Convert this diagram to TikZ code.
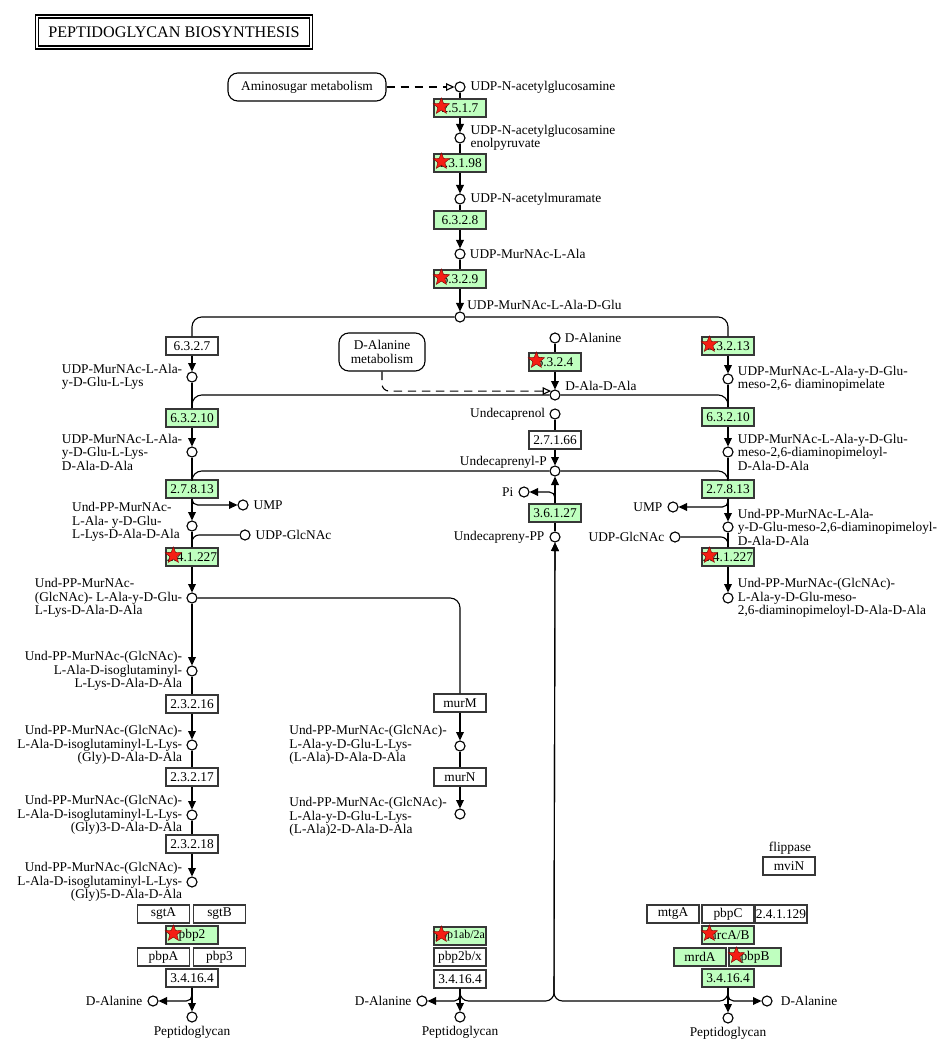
\documentclass[tikz,border=0pt]{standalone}
\usepackage{fontspec}
\setmainfont{Liberation Serif}
\usetikzlibrary{positioning,arrows.meta,shapes.geometric,backgrounds,calc}
\definecolor{enz}{RGB}{191,255,191}
\definecolor{frame}{RGB}{55,55,55}
\definecolor{hit}{RGB}{245,30,20}

\begin{document}
\begin{tikzpicture}[x=0.025cm, y=-0.025cm,
  cpd/.style={circle, draw, fill=white, line width=0.8pt, inner sep=0pt, minimum size=0.25cm},
  ez/.style={draw=frame, line width=0.9pt, fill=white, minimum width=1.3cm,
             minimum height=0.45cm, inner sep=0pt, font=\fontsize{9.5}{9.6}\selectfont},
  ezg/.style={ez, fill=enz},
  lbl/.style={inner sep=0pt, align=left, font=\fontsize{9.5}{9.6}\selectfont},
  lblr/.style={lbl, align=right},
  hitmark/.style={star, star points=5, star point ratio=2.3, fill=hit, draw=red!50!black,
                  line width=0.3pt, minimum size=0.43cm, inner sep=0pt},
  mapref/.style={draw, rounded corners=7pt, line width=0.8pt, align=center, inner sep=2pt,
                 font=\fontsize{9.5}{9.6}\selectfont},
  titlebox/.style={draw, double, double distance=0.8pt, line width=1.1pt, minimum width=6.85cm,
                   minimum height=0.78cm, font=\fontsize{11.5}{12}\selectfont},
  link/.style={line width=0.8pt},
  arr/.style={link, -{Triangle[length=6pt,width=5.5pt]}},
  dasharr/.style={link, dash pattern=on 6pt off 4pt, -{Triangle[open,length=6pt,width=5.5pt]}},
]
\useasboundingbox (0,0) rectangle (939,1050);
\fill[white] (0,0) rectangle (939,1050);

% Title
\node[titlebox] (title) at (174,32) {PEPTIDOGLYCAN BIOSYNTHESIS};

% Main column -- UDP-GlcNAc down to UDP-MurNAc-L-Ala-D-Glu
\node[mapref, minimum width=3.95cm, minimum height=0.7cm] (amino) at (307,87) {Aminosugar metabolism};
\node[cpd] (c1) at (460,87) {};
\node[ezg] (e2517) at (460,108) {2.5.1.7};
\node[cpd] (c2) at (460,138) {};
\node[ezg] (e13198) at (460,163) {1.3.1.98};
\node[cpd] (c3) at (460,199) {};
\node[ezg] (e6328) at (460,220) {6.3.2.8};
\node[cpd] (c4) at (460,254) {};
\node[ezg] (e6329) at (460,279) {6.3.2.9};
\node[cpd] (c5) at (460,317) {};

\node[lbl, right=0.12cm of c1] (t-c1) {UDP-N-acetylglucosamine};
\node[lbl, right=0.12cm of c2] (t-c2) {UDP-N-acetylglucosamine\\enolpyruvate};
\node[lbl, right=0.12cm of c3] (t-c3) {UDP-N-acetylmuramate};
\node[lbl, right=0.1cm of c4] (t-c4) {UDP-MurNAc-L-Ala};
\node[lbl, anchor=west] (t-c5) at (467,305) {UDP-MurNAc-L-Ala-D-Glu};

% Left column -- L-Lys branch
\node[ez] (e6327) at (192,346) {6.3.2.7};
\node[cpd] (cl1) at (192,377) {};
\node[ezg] (e63210l) at (192,418) {6.3.2.10};
\node[cpd] (cl2) at (192,452) {};
\node[ezg] (e2713l) at (192,489) {2.7.8.13};
\node[cpd] (cl3) at (192,526) {};
\node[ezg] (e24l) at (192,557) {2.4.1.227};
\node[cpd] (cl4) at (192,598) {};
\node[cpd] (cl5) at (192,671) {};
\node[ez] (e2316) at (192,704) {2.3.2.16};
\node[cpd] (cl6) at (192,745) {};
\node[ez] (e2317) at (192,777) {2.3.2.17};
\node[cpd] (cl7) at (192,815) {};
\node[ez] (e2318) at (192,844) {2.3.2.18};
\node[cpd] (cl8) at (192,882) {};
\node[ez] (sgtA) at (163.5,914) {sgtA};
\node[ez] (sgtB) at (219.5,914) {sgtB};
\node[ezg] (pbp2) at (192,935) {pbp2};
\node[ez] (pbpA) at (163.5,957) {pbpA};
\node[ez] (pbp3) at (219.5,957) {pbp3};
\node[ez] (e3416l) at (192,978) {3.4.16.4};
\node[cpd] (dalal) at (153,1001) {};
\node[cpd] (pgl) at (192,1017) {};
\node[cpd] (umpl) at (243,505) {};
\node[cpd] (glcl) at (245,535) {};

\node[lbl, left=0.1cm of cl1] (t-cl1) {UDP-MurNAc-L-Ala-\\y-D-Glu-L-Lys};
\node[lbl, left=0.1cm of cl2] (t-cl2) {UDP-MurNAc-L-Ala-\\y-D-Glu-L-Lys-\\D-Ala-D-Ala};
\node[lbl, anchor=east] (t-cl3) at (180,522) {Und-PP-MurNAc-\\L-Ala- y-D-Glu-\\L-Lys-D-Ala-D-Ala};
\node[lbl, left=0.1cm of cl4] (t-cl4) {Und-PP-MurNAc-\\(GlcNAc)- L-Ala-y-D-Glu-\\L-Lys-D-Ala-D-Ala};
\node[lblr, left=0.1cm of cl5] (t-cl5) {Und-PP-MurNAc-(GlcNAc)-\\L-Ala-D-isoglutaminyl-\\L-Lys-D-Ala-D-Ala};
\node[lblr, left=0.1cm of cl6] (t-cl6) {Und-PP-MurNAc-(GlcNAc)-\\L-Ala-D-isoglutaminyl-L-Lys-\\(Gly)-D-Ala-D-Ala};
\node[lblr, left=0.1cm of cl7] (t-cl7) {Und-PP-MurNAc-(GlcNAc)-\\L-Ala-D-isoglutaminyl-L-Lys-\\(Gly)3-D-Ala-D-Ala};
\node[lblr, left=0.1cm of cl8] (t-cl8) {Und-PP-MurNAc-(GlcNAc)-\\L-Ala-D-isoglutaminyl-L-Lys-\\(Gly)5-D-Ala-D-Ala};
\node[lbl, right=0.12cm of umpl] (t-umpl) {UMP};
\node[lbl, right=0.12cm of glcl] (t-glcl) {UDP-GlcNAc};
\node[lbl, left=0.12cm of dalal] (t-dalal) {D-Alanine};
\node[lbl, anchor=north] (t-pgl) at (192,1026) {Peptidoglycan};

% Middle column -- murM / murN
\node[ez] (murM) at (460,703) {murM};
\node[cpd] (cm1) at (460,746) {};
\node[ez] (murN) at (460,777) {murN};
\node[cpd] (cm2) at (460,814) {};
\node[ezg, font=\fontsize{8.5}{9}\selectfont] (pbp1) at (460,936) {pbp1ab/2a};
\node[ez] (pbp2bx) at (460,957) {pbp2b/x};
\node[ez] (e3416m) at (460,979) {3.4.16.4};
\node[cpd] (dalam) at (422,1001) {};
\node[cpd] (pgm) at (460,1017) {};
\coordinate (jm) at (554,1001);

\node[lbl, anchor=east] (t-cm1) at (447,745) {Und-PP-MurNAc-(GlcNAc)-\\L-Ala-y-D-Glu-L-Lys-\\(L-Ala)-D-Ala-D-Ala};
\node[lbl, anchor=east] (t-cm2) at (447,817) {Und-PP-MurNAc-(GlcNAc)-\\L-Ala-y-D-Glu-L-Lys-\\(L-Ala)2-D-Ala-D-Ala};
\node[lbl, left=0.12cm of dalam] (t-dalam) {D-Alanine};
\node[lbl, anchor=north] (t-pgm) at (460,1026) {Peptidoglycan};

% Centre column -- D-Ala-D-Ala and lipid carrier
\node[mapref, minimum width=2.15cm, minimum height=0.95cm] (dalameta) at (382,352) {D-Alanine\\metabolism};
\node[cpd] (dala) at (555,338) {};
\node[ezg] (e6324) at (555,362) {6.3.2.4};
\node[cpd] (ddala) at (555,395) {};
\node[cpd] (undol) at (555,414) {};
\node[ez] (e27166) at (555,440) {2.7.1.66};
\node[cpd] (undp) at (555,471) {};
\node[cpd] (pi) at (524,492) {};
\node[ezg] (e36127) at (555,513) {3.6.1.27};
\node[cpd] (upp) at (555,537) {};

\node[lbl, right=0.1cm of dala] (t-dala) {D-Alanine};
\node[lbl, anchor=west] (t-ddala) at (565,386) {D-Ala-D-Ala};
\node[lbl, left=0.1cm of undol] (t-undol) {Undecaprenol};
\node[lbl, anchor=east] (t-undp) at (547,462) {Undecaprenyl-P};
\node[lbl, left=0.12cm of pi] (t-pi) {Pi};
\node[lbl, left=0.12cm of upp] (t-upp) {Undecapreny-PP};

% Right column -- meso-DAP branch
\node[ezg] (e63213) at (728,346) {6.3.2.13};
\node[cpd] (cr1) at (728,379) {};
\node[ezg] (e63210r) at (728,417) {6.3.2.10};
\node[cpd] (cr2) at (728,452) {};
\node[ezg] (e2713r) at (728,489) {2.7.8.13};
\node[cpd] (cr3) at (728,527) {};
\node[ezg] (e24r) at (728,557) {2.4.1.227};
\node[cpd] (cr4) at (728,598) {};
\node[cpd] (umpr) at (673,507) {};
\node[cpd] (glcr) at (675,537) {};
\node[ez] (mtgA) at (673,914) {mtgA};
\node[ez] (pbpC) at (728,914) {pbpC};
\node[ez] (e24129) at (781,914) {2.4.1.129};
\node[ezg] (mrcAB) at (728,935) {mrcA/B};
\node[ezg] (mrdA) at (700,957) {mrdA};
\node[ezg] (pbpB) at (755,957) {pbpB};
\node[ezg] (e3416r) at (728,978) {3.4.16.4};
\node[cpd] (dalar) at (767,1001) {};
\node[cpd] (pgr) at (728,1018) {};
\node[ez] (mviN) at (789,866) {mviN};

\node[lbl, right=0.1cm of cr1] (t-cr1) {UDP-MurNAc-L-Ala-y-D-Glu-\\meso-2,6- diaminopimelate};
\node[lbl, right=0.1cm of cr2] (t-cr2) {UDP-MurNAc-L-Ala-y-D-Glu-\\meso-2,6-diaminopimeloyl-\\D-Ala-D-Ala};
\node[lbl, right=0.1cm of cr3] (t-cr3) {Und-PP-MurNAc-L-Ala-\\y-D-Glu-meso-2,6-diaminopimeloyl-\\D-Ala-D-Ala};
\node[lbl, right=0.1cm of cr4] (t-cr4) {Und-PP-MurNAc-(GlcNAc)-\\L-Ala-y-D-Glu-meso-\\2,6-diaminopimeloyl-D-Ala-D-Ala};
\node[lbl, left=0.12cm of umpr] (t-umpr) {UMP};
\node[lbl, left=0.12cm of glcr] (t-glcr) {UDP-GlcNAc};
\node[lbl, right=0.2cm of dalar] (t-dalar) {D-Alanine};
\node[lbl, anchor=north] (t-pgr) at (728,1027) {Peptidoglycan};
\node[lbl] (t-flip) at (790,848) {flippase};

% Hits
\foreach \e in {e2517,e13198,e6329,e6324,e63213,e24l,e24r,pbp2,pbp1,mrcAB,pbpB}
  \node[hitmark] (s-\e) at ([xshift=0.2cm, yshift=0.04cm]\e.west) {};

% Connections -- main column
\draw[dasharr] (amino) -- (c1);
\draw[link] (c1) -- (e2517);
\draw[arr] (e2517) -- (c2);
\draw[link] (c2) -- (e13198);
\draw[arr] (e13198) -- (c3);
\draw[link] (c3) -- (e6328);
\draw[arr] (e6328) -- (c4);
\draw[link] (c4) -- (e6329);
\draw[arr] (e6329) -- (c5);
\draw[link, rounded corners=7pt] (c5) -| (e6327);
\draw[link, rounded corners=7pt] (c5) -| (e63213);

% Connections -- left column
\draw[arr] (e6327) -- (cl1);
\draw[link] (cl1) -- (e63210l);
\draw[arr] (e63210l) -- (cl2);
\draw[link] (cl2) -- (e2713l);
\draw[arr] (e2713l) -- (cl3);
\draw[arr, rounded corners=4pt] (e2713l.south) |- (umpl);
\draw[link] (cl3) -- (e24l);
\draw[link, rounded corners=5pt] (glcl) -| (e24l);
\draw[arr] (e24l) -- (cl4);
\draw[arr] (cl4) -- (cl5);
\draw[link, rounded corners=7pt] (cl4) -| (murM);
\draw[link] (cl5) -- (e2316);
\draw[arr] (e2316) -- (cl6);
\draw[link] (cl6) -- (e2317);
\draw[arr] (e2317) -- (cl7);
\draw[link] (cl7) -- (e2318);
\draw[arr] (e2318) -- (cl8);
\draw[arr, rounded corners=4pt] (e3416l.south) |- (dalal);
\draw[arr] (e3416l) -- (pgl);

% Connections -- middle column
\draw[arr] (murM) -- (cm1);
\draw[link] (cm1) -- (murN);
\draw[arr] (murN) -- (cm2);
\draw[arr, rounded corners=4pt] (e3416m.south) |- (dalam);
\draw[arr] (e3416m) -- (pgm);
\draw[arr, rounded corners=6pt] (e3416m.south) |- (jm) -- (upp);
\draw[arr, rounded corners=6pt] (e3416r.south) |- (jm) -- (upp);

% Connections -- centre column
\draw[link] (dala) -- (e6324);
\draw[arr] (e6324) -- (ddala);
\draw[dasharr, rounded corners=5pt] (dalameta.south) |- (ddala.north west);
\draw[link, rounded corners=7pt] (ddala) -| (e63210l);
\draw[link, rounded corners=7pt] (ddala) -| (e63210r);
\draw[link] (undol) -- (e27166);
\draw[arr] (e27166) -- (undp);
\draw[link, rounded corners=7pt] (undp) -| (e2713l);
\draw[link, rounded corners=7pt] (undp) -| (e2713r);
\draw[arr] (e36127) -- (undp);
\draw[arr, rounded corners=4pt] (e36127.north) |- (pi);
\draw[link] (upp) -- (e36127);

% Connections -- right column
\draw[arr] (e63213) -- (cr1);
\draw[link] (cr1) -- (e63210r);
\draw[arr] (e63210r) -- (cr2);
\draw[link] (cr2) -- (e2713r);
\draw[arr] (e2713r) -- (cr3);
\draw[arr, rounded corners=4pt] (e2713r.south) |- (umpr);
\draw[link] (cr3) -- (e24r);
\draw[link, rounded corners=5pt] (glcr) -| (e24r);
\draw[arr] (e24r) -- (cr4);
\draw[arr, rounded corners=4pt] (e3416r.south) |- (dalar);
\draw[arr] (e3416r) -- (pgr);

% Lines through the enzyme stacks
\begin{scope}[on background layer]
\draw[link] (cl8) -- (e3416l);
\draw[link] (cm2) -- (e3416m);
\draw[link] (cr4) -- (e3416r);
\end{scope}
\end{tikzpicture}
\end{document}
